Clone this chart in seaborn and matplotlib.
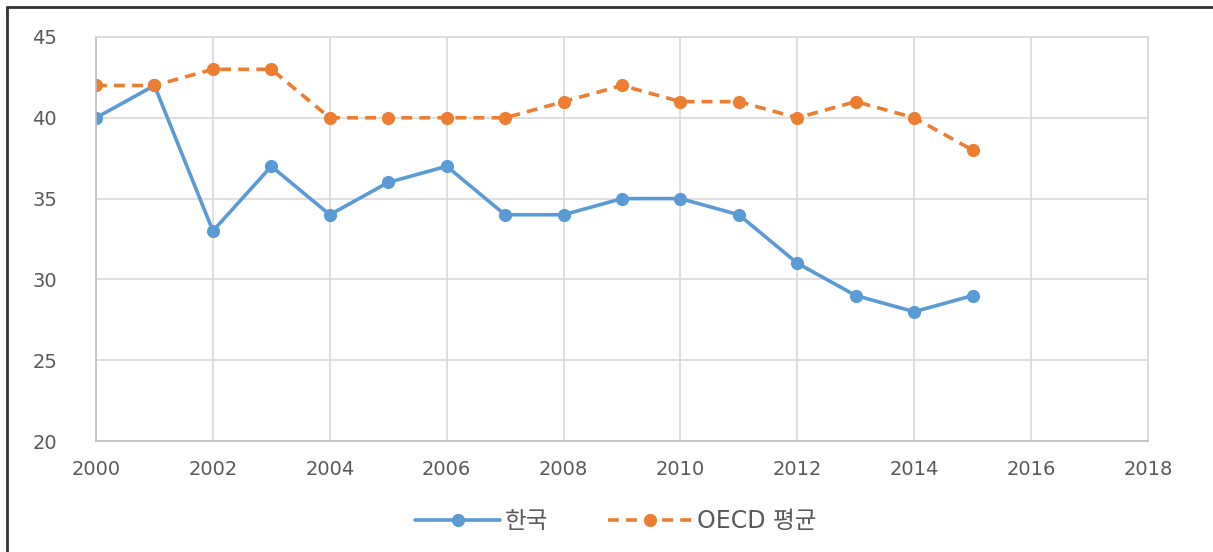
import matplotlib
matplotlib.use("Agg")
import matplotlib.pyplot as plt
import seaborn as sns
import pandas as pd
from matplotlib.lines import Line2D

years = list(range(2000, 2016))
korea = [40, 42, 33, 37, 34, 36, 37, 34, 34, 35, 35, 34, 31, 29, 28, 29]
oecd = [42, 42, 43, 43, 40, 40, 40, 40, 41, 42, 41, 41, 40, 41, 40, 38]
series_names = ["한국", "OECD 평균"]

sns.set_style("white")
plt.rcParams['font.family'] = ['DejaVu Sans', 'Noto Sans CJK KR']

df = pd.DataFrame({"year": years, series_names[0]: korea, series_names[1]: oecd})
long_df = df.melt(id_vars="year", var_name="series", value_name="value")

fig = plt.figure(figsize=(12.13, 5.52), dpi=100)
ax = fig.add_axes([96 / 1213, 1 - 441 / 552, (1148 - 96) / 1213, (441 - 37) / 552])

colors = {"한국": "#5B9BD5", "OECD 평균": "#ED7D31"}
sns.lineplot(data=long_df[long_df.series == "한국"], x="year", y="value", ax=ax,
             color=colors["한국"], linewidth=2.6, marker="o", markersize=9.5,
             markeredgewidth=0, legend=False)
sns.lineplot(data=long_df[long_df.series == "OECD 평균"], x="year", y="value", ax=ax,
             color=colors["OECD 평균"], linewidth=2.6, linestyle=(0, (3, 2)),
             marker="o", markersize=9.5, markeredgewidth=0, legend=False)

ax.set_xlim(2000, 2018)
ax.set_ylim(20, 45)
ax.set_xticks(range(2000, 2019, 2))
ax.set_yticks(range(20, 46, 5))
ax.grid(True, color="#D9D9D9", linewidth=1.2)
ax.set_axisbelow(True)
for s in ax.spines.values():
    s.set_color("#D9D9D9")
    s.set_linewidth(1.2)
ax.spines["left"].set_color("#BFBFBF")
ax.spines["bottom"].set_color("#BFBFBF")
ax.tick_params(axis="both", length=0, labelsize=14, colors="#595959")
ax.tick_params(axis="y", pad=28)
ax.tick_params(axis="x", pad=14)
ax.set_xlabel("")
ax.set_ylabel("")

handles = [
    Line2D([0], [0], color=colors["한국"], linewidth=2.6, marker="o", markersize=9.5,
           markeredgewidth=0),
    Line2D([0], [0], color=colors["OECD 평균"], linewidth=2.6, linestyle=(0, (3, 2)),
           marker="o", markersize=9.5, markeredgewidth=0),
]
fig.legend(handles, series_names, loc="center", bbox_to_anchor=(0.508, 1 - 521 / 552),
           ncol=2, frameon=False, fontsize=17, labelcolor="#595959",
           handlelength=3.6, columnspacing=2.5, handletextpad=0.2)

# frame lines of the clipped screenshot
fig.add_artist(Line2D([7 / 1213, 7 / 1213], [0, 1 - 7 / 552], color="#333333", linewidth=2))
fig.add_artist(Line2D([7 / 1213, 1], [1 - 7 / 552, 1 - 7 / 552], color="#333333", linewidth=2))

fig.savefig("out.png", dpi=100)
